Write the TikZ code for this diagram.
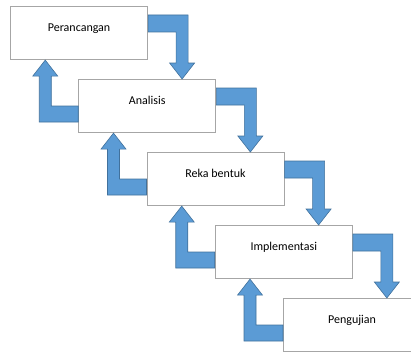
\documentclass[tikz,border=0pt]{standalone}
\usepackage{fontspec}
\setmainfont{Carlito}
\usetikzlibrary{calc}
\definecolor{flowblue}{HTML}{5B9BD5}
\definecolor{flowedge}{HTML}{41719C}
\definecolor{boxgray}{HTML}{A6A6A6}
\tikzset{
  phase/.style={draw=boxgray,line width=1.1pt,fill=white,minimum width=137pt,minimum height=53pt,inner sep=0pt,anchor=north west},
  phasetext/.style={anchor=base,inner sep=0pt,font=\fontsize{12}{14}\selectfont},
  bendarrow/.style={fill=flowblue,draw=flowedge,line width=0.6pt,line join=miter}
}
\begin{document}
\begin{tikzpicture}[line join=miter,x=1pt,y=-1pt]
\clip(0,0) rectangle (411,353);
% stages
\node[phase] (perancangan) at (10,6) {};
\node[phase] (analisis) at (78.25,79) {};
\node[phase] (rekabentuk) at (146.5,152) {};
\node[phase] (implementasi) at (214.75,225) {};
\node[phase] (pengujian) at (283,298) {};
\node[phasetext] (tperancangan) at ($(perancangan.north)+(0,25.5)$) {Perancangan};
\node[phasetext] (tanalisis) at ($(analisis.north)+(0,25.5)$) {Analisis};
\node[phasetext] (trekabentuk) at ($(rekabentuk.north)+(0,25.5)$) {Reka bentuk};
\node[phasetext] (timplementasi) at ($(implementasi.north)+(0,25.5)$) {Implementasi};
\node[phasetext] (tpengujian) at ($(pengujian.north)+(0,25.5)$) {Pengujian};
% arrows down
\draw[bendarrow] ($(perancangan.north east)+(0,9)$) -- ++(40,0) -- ($(perancangan.north east |- analisis.north)+(40,-16)$) -- ++(6.5,0) -- ++(-12.5,16) -- ++(-12.5,-16) -- ++(6.5,0) -- ($(perancangan.north east)+(28,26)$) -- ($(perancangan.north east)+(0,26)$) -- cycle;
\draw[bendarrow] ($(analisis.north east)+(0,9)$) -- ++(40,0) -- ($(analisis.north east |- rekabentuk.north)+(40,-16)$) -- ++(6.5,0) -- ++(-12.5,16) -- ++(-12.5,-16) -- ++(6.5,0) -- ($(analisis.north east)+(28,26)$) -- ($(analisis.north east)+(0,26)$) -- cycle;
\draw[bendarrow] ($(rekabentuk.north east)+(0,9)$) -- ++(40,0) -- ($(rekabentuk.north east |- implementasi.north)+(40,-16)$) -- ++(6.5,0) -- ++(-12.5,16) -- ++(-12.5,-16) -- ++(6.5,0) -- ($(rekabentuk.north east)+(28,26)$) -- ($(rekabentuk.north east)+(0,26)$) -- cycle;
\draw[bendarrow] ($(implementasi.north east)+(0,9)$) -- ++(40,0) -- ($(implementasi.north east |- pengujian.north)+(40,-16)$) -- ++(6.5,0) -- ++(-12.5,16) -- ++(-12.5,-16) -- ++(6.5,0) -- ($(implementasi.north east)+(28,26)$) -- ($(implementasi.north east)+(0,26)$) -- cycle;
% arrows up
\draw[bendarrow] ($(analisis.north west)+(0,43)$) -- ++(-39,0) -- ($(analisis.north west |- perancangan.south)+(-39,16)$) -- ++(-6.5,0) -- ++(12.5,-16) -- ++(12.5,16) -- ++(-6.5,0) -- ($(analisis.north west)+(-27,27)$) -- ($(analisis.north west)+(0,27)$) -- cycle;
\draw[bendarrow] ($(rekabentuk.north west)+(0,43)$) -- ++(-39,0) -- ($(rekabentuk.north west |- analisis.south)+(-39,16)$) -- ++(-6.5,0) -- ++(12.5,-16) -- ++(12.5,16) -- ++(-6.5,0) -- ($(rekabentuk.north west)+(-27,27)$) -- ($(rekabentuk.north west)+(0,27)$) -- cycle;
\draw[bendarrow] ($(implementasi.north west)+(0,43)$) -- ++(-39,0) -- ($(implementasi.north west |- rekabentuk.south)+(-39,16)$) -- ++(-6.5,0) -- ++(12.5,-16) -- ++(12.5,16) -- ++(-6.5,0) -- ($(implementasi.north west)+(-27,27)$) -- ($(implementasi.north west)+(0,27)$) -- cycle;
\draw[bendarrow] ($(pengujian.north west)+(0,43)$) -- ++(-39,0) -- ($(pengujian.north west |- implementasi.south)+(-39,16)$) -- ++(-6.5,0) -- ++(12.5,-16) -- ++(12.5,16) -- ++(-6.5,0) -- ($(pengujian.north west)+(-27,27)$) -- ($(pengujian.north west)+(0,27)$) -- cycle;
\end{tikzpicture}
\end{document}
